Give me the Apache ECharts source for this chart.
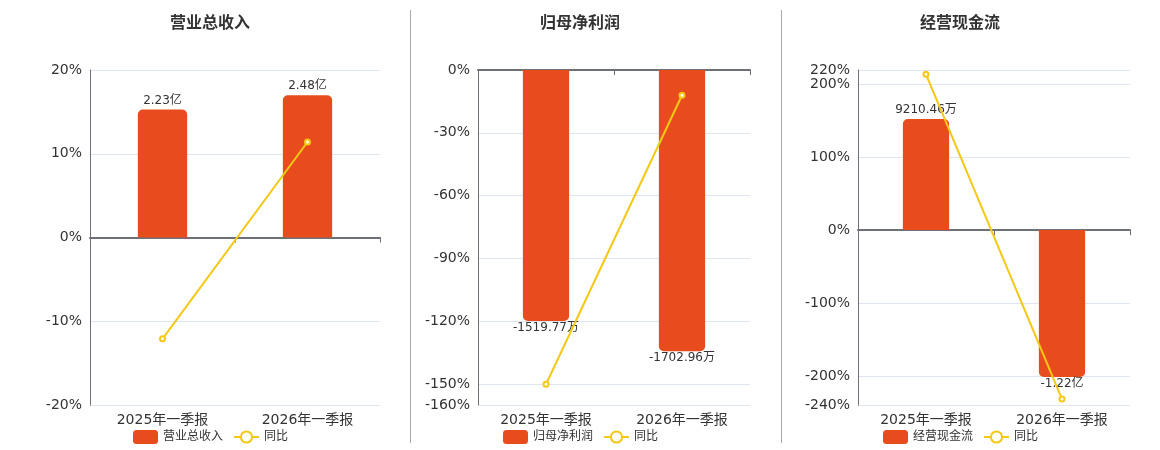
<!DOCTYPE html>
<html lang="zh">
<head>
    <meta charset="UTF-8">
    <script src="https://cdn.jsdelivr.net/npm/echarts@6/dist/echarts.min.js"></script>
    <title>财务概览</title>
    <style>
        html, body { margin: 0; padding: 0; background: #fff; }
        #main { width: 1160px; height: 450px; }
    </style>
</head>
<body>
<div id="main"></div>

<script>
    // 数据
    const categories = ['2025年一季报', '2026年一季报'];

    const revenue = [2.23, 2.48];               // 亿
    const revenueLabels = ['2.23亿', '2.48亿'];
    const revenueYoy = [-12.1, 11.4];
    const revenueTicks = [-20, -10, 0, 10, 20];

    const profit = [-1519.77, -1702.96];        // 万
    const profitLabels = ['-1519.77万', '-1702.96万'];
    const profitYoy = [-150.1, -12.05];
    const profitTicks = [-160, -150, -120, -90, -60, -30, 0];

    const cashflow = [9210.46, -12200];         // 万
    const cashflowLabels = ['9210.46万', '-1.22亿'];
    const cashflowYoy = [214.1, -231.8];
    const cashflowTicks = [-240, -200, -100, 0, 100, 200, 220];

    const titles = ['营业总收入', '归母净利润', '经营现金流'];

    const barColor = '#E84C1D';
    const lineColor = '#F4C815';
    const font = 'DejaVu Sans, Noto Sans CJK SC, sans-serif';

    var chart = echarts.init(document.getElementById('main'));

    var panels = [
        { name: titles[0], bars: revenue, labels: revenueLabels, yoy: revenueYoy, ticks: revenueTicks,
          left: 90, right: 780, center: 210, barAxis: { min: -2.92, max: 2.92 } },
        { name: titles[1], bars: profit, labels: profitLabels, yoy: profitYoy, ticks: profitTicks,
          left: 478, right: 410, center: 580, barAxis: { min: -2028, max: 0 } },
        { name: titles[2], bars: cashflow, labels: cashflowLabels, yoy: cashflowYoy, ticks: cashflowTicks,
          left: 858, right: 30, center: 960, barAxis: { min: -14520, max: 13280 } }
    ];

    var grid = [], xAxis = [], yAxis = [], series = [], title = [], legend = [];

    panels.forEach(function (p, i) {
        title.push({
            text: p.name, left: p.center, top: 16, textAlign: 'center', padding: 0,
            textStyle: { fontSize: 16, fontWeight: 'bold', color: '#333', fontFamily: font }
        });
        legend.push({
            data: [p.name, '同比'], left: p.center - 77, top: 430, padding: 0,
            itemWidth: 25, itemHeight: 14, itemGap: 10,
            textStyle: { fontSize: 12, color: '#333', fontFamily: font }
        });
        grid.push({ left: p.left, right: p.right, top: 70, bottom: 45 });
    });

    // 类目标签轴（在底部）
    panels.forEach(function (p, i) {
        xAxis.push({
            type: 'category', gridIndex: i, data: categories, position: 'bottom',
            axisLine: { show: false, onZero: false }, axisTick: { show: false },
            axisLabel: { fontSize: 14, color: '#333', fontFamily: font, margin: 8 }
        });
    });
    // 零线轴
    panels.forEach(function (p, i) {
        xAxis.push({
            type: 'category', gridIndex: i, data: categories, position: 'bottom',
            axisLine: { show: true, onZero: true, onZeroAxisIndex: i, lineStyle: { color: '#6E7079', width: 2 } },
            axisTick: { show: true, lineStyle: { color: '#6E7079' } },
            axisLabel: { show: false }
        });
    });
    // 百分比轴
    panels.forEach(function (p, i) {
        var ticks = p.ticks;
        yAxis.push({
            type: 'value', gridIndex: i, min: ticks[0], max: ticks[ticks.length - 1],
            axisLine: { show: true, lineStyle: { color: '#6E7079' } },
            axisTick: { show: false, customValues: ticks },
            axisLabel: { customValues: ticks, formatter: '{value}%', fontSize: 14, color: '#333', fontFamily: font },
            splitLine: { lineStyle: { color: '#E0E6F1' } }
        });
    });
    // 柱子用的隐藏轴
    panels.forEach(function (p, i) {
        yAxis.push({
            type: 'value', gridIndex: i, min: p.barAxis.min, max: p.barAxis.max, show: false,
            splitLine: { show: false }
        });
    });

    panels.forEach(function (p, i) {
        series.push({
            name: p.name, type: 'bar', xAxisIndex: i, yAxisIndex: 3 + i,
            barWidth: '34%',
            data: p.bars.map(function (v) {
                return {
                    value: v,
                    itemStyle: { borderRadius: v >= 0 ? [5, 5, 0, 0] : [0, 0, 5, 5] },
                    label: { position: v >= 0 ? 'top' : 'bottom', distance: v >= 0 ? 3 : 1 }
                };
            }),
            itemStyle: { color: barColor },
            label: {
                show: true, fontSize: 12, color: '#333', fontFamily: font,
                formatter: function (d) { return p.labels[d.dataIndex]; }
            },
            z: 2
        });
        series.push({
            name: '同比', type: 'line', xAxisIndex: i, yAxisIndex: i,
            data: p.yoy,
            symbol: 'emptyCircle', symbolSize: 5,
            itemStyle: { color: lineColor },
            lineStyle: { color: lineColor, width: 2 },
            z: 3
        });
    });

    var option = {
        backgroundColor: '#fff',
        animation: false,
        title: title,
        legend: legend,
        grid: grid,
        xAxis: xAxis,
        yAxis: yAxis,
        series: series,
        graphic: [
            { type: 'line', shape: { x1: 410.5, y1: 10, x2: 410.5, y2: 443 }, style: { stroke: '#AAAAAA', lineWidth: 1 } },
            { type: 'line', shape: { x1: 781.5, y1: 10, x2: 781.5, y2: 443 }, style: { stroke: '#AAAAAA', lineWidth: 1 } }
        ]
    };
    chart.setOption(option);
</script>
</body>
</html>
